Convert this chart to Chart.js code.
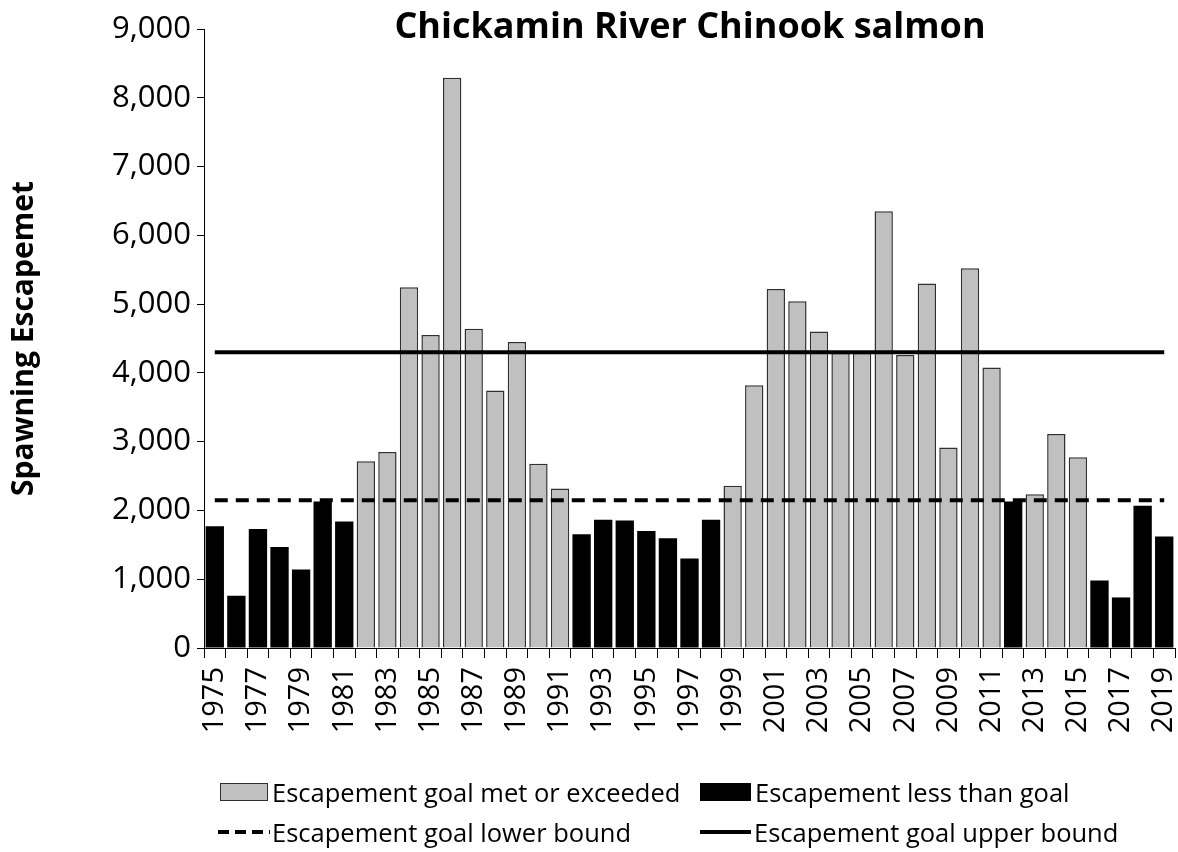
<!DOCTYPE html>
<html>
<head>
<meta charset="utf-8">
<script src="https://cdn.jsdelivr.net/npm/chart.js@4"></script>
<style>
  body { margin: 0; background: #fff; }
  #wrap { position: relative; width: 1178px; height: 852px; font-family: "Open Sans", sans-serif; }
  #title { position: absolute; left: 0; width: 1380px; top: 0px; text-align: center; font-weight: bold; font-size: 36px; color: #000; }
  .leg { position: absolute; font-size: 25.5px; color: #000; display: flex; align-items: center; white-space: nowrap; }
  .box { display: inline-block; width: 48px; height: 18px; margin-right: 4px; box-sizing: border-box; }
</style>
</head>
<body>
<div id="wrap">
  <canvas id="chart" width="1178" height="852"></canvas>
  <div id="title">Chickamin River Chinook salmon</div>
  <div class="leg" style="left:220px; top:775px;"><span class="box" style="background:#c0c0c0;border:1.5px solid #303030"></span>Escapement goal met or exceeded</div>
  <div class="leg" style="left:700px; top:775px;"><span class="box" style="width:51px;background:#000"></span>Escapement less than goal</div>
  <div class="leg" style="left:218px; top:815px;"><svg width="52" height="8" style="margin-right:2px"><line x1="0" y1="4" x2="52" y2="4" stroke="#000" stroke-width="4" stroke-dasharray="11,6"/></svg>Escapement goal lower bound</div>
  <div class="leg" style="left:700px; top:815px;"><svg width="51" height="8" style="margin-right:3px"><line x1="0" y1="4" x2="51" y2="4" stroke="#000" stroke-width="4"/></svg>Escapement goal upper bound</div>
</div>
<script>
const years = ['1975','1976','1977','1978','1979','1980','1981','1982','1983','1984',
  '1985','1986','1987','1988','1989','1990','1991','1992','1993','1994',
  '1995','1996','1997','1998','1999','2000','2001','2002','2003','2004',
  '2005','2006','2007','2008','2009','2010','2011','2012','2013','2014',
  '2015','2016','2017','2018','2019']

// escapement goal met or exceeded (grey bars)
const goalMet = [null, null, null, null, null, null, null, 2715, 2850, 5245,
  4550, 8290, 4640, 3745, 4450, 2680, 2320, null, null, null,
  null, null, null, null, 2360, 3820, 5220, 5040, 4600, 4290,
  4290, 6350, 4260, 5300, 2915, 5520, 4080, null, 2235, 3110,
  2775, null, null, null, null]

// escapement less than goal (black bars)
const belowGoal = [1770, 760, 1730, 1470, 1140, 2130, 1840, null, null, null,
  null, null, null, null, null, null, null, 1655, 1865, 1855,
  1700, 1595, 1300, 1865, null, null, null, null, null, null,
  null, null, null, null, null, null, null, 2130, null, null,
  null, 980, 735, 2070, 1620]

const lowerBound = 2150
const upperBound = 4300
const yTicks = [0, 1000, 2000, 3000, 4000, 5000, 6000, 7000, 8000, 9000]

const font = 'Open Sans'

new Chart(document.getElementById('chart').getContext('2d'), {
    data: {
        labels: years,
        datasets: [{
            type: 'line',
            label: 'Escapement goal lower bound',
            data: [{x: years[0], y: lowerBound}, {x: years[years.length - 1], y: lowerBound}],
            borderColor: '#000',
            borderWidth: 4,
            borderDash: [13, 8],
            pointRadius: 0,
            order: 0
        }, {
            type: 'line',
            label: 'Escapement goal upper bound',
            data: [{x: years[0], y: upperBound}, {x: years[years.length - 1], y: upperBound}],
            borderColor: '#000',
            borderWidth: 4,
            pointRadius: 0,
            order: 0
        }, {
            type: 'bar',
            label: 'Escapement goal met or exceeded',
            data: goalMet,
            backgroundColor: '#c0c0c0',
            borderColor: '#303030',
            borderWidth: 1.5,
            grouped: false,
            categoryPercentage: 1,
            barPercentage: 0.85,
            order: 1
        }, {
            type: 'bar',
            label: 'Escapement less than goal',
            data: belowGoal,
            backgroundColor: '#000',
            borderWidth: 0,
            grouped: false,
            categoryPercentage: 1,
            barPercentage: 0.85,
            order: 1
        }]
    },
    options: {
        responsive: false,
        animation: false,
        layout: {
            padding: {top: 29, right: 3, bottom: 84, left: 0}
        },
        plugins: {
            legend: {display: false},
            tooltip: {enabled: false}
        },
        scales: {
            x: {
                type: 'category',
                offset: true,
                border: {display: true, color: '#000', width: 1},
                grid: {display: true, offset: true, drawOnChartArea: false, color: '#000', tickLength: 10},
                ticks: {
                    autoSkip: false,
                    maxRotation: 90,
                    minRotation: 90,
                    color: '#000',
                    padding: 9,
                    font: {family: font, size: 29},
                    callback: function (value, index) {
                        return index % 2 === 0 ? this.getLabelForValue(value) : ''
                    }
                },
                afterFit: function (scale) {
                    scale.height = 120
                    scale.paddingLeft = 0
                    scale.paddingRight = 0
                }
            },
            y: {
                min: 0,
                max: 9000,
                border: {display: true, color: '#000', width: 1},
                grid: {display: true, drawOnChartArea: false, color: '#000', tickLength: 7},
                afterBuildTicks: function (scale) {
                    scale.ticks = yTicks.map(v => ({value: v}))
                },
                ticks: {
                    color: '#000',
                    padding: 6,
                    font: {family: font, size: 31},
                    callback: v => v.toLocaleString('en-US')
                },
                title: {
                    display: true,
                    text: 'Spawning Escapemet',
                    color: '#000',
                    font: {family: font, size: 30, weight: 'bold'},
                    padding: {top: 6, bottom: 10}
                },
                afterFit: function (scale) {
                    scale.width = 204
                    scale.paddingTop = 0
                }
            }
        }
    }
})
</script>
</body>
</html>
